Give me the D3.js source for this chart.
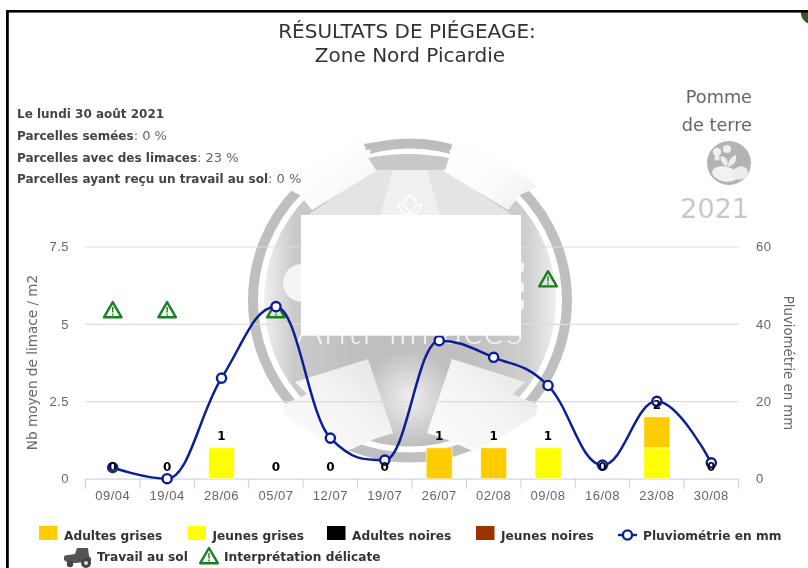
<!DOCTYPE html>
<html lang="fr">
<head>
<meta charset="utf-8">
<title>Résultats de piégeage</title>
<script src="https://cdnjs.cloudflare.com/ajax/libs/d3/7.8.5/d3.min.js"></script>
<style>
html,body{margin:0;padding:0;background:#fff;overflow:hidden}
svg{display:block;font-family:"DejaVu Sans",sans-serif;filter:blur(.3px)}
</style>
</head>
<body>
<div id="chart"></div>
<script>
const categories = ["09/04","19/04","28/06","05/07","12/07","19/07","26/07","02/08","09/08","16/08","23/08","30/08"];
const adultesGrises = [0,0,0,0,0,0,1,1,0,0,1,0];
const jeunesGrises  = [0,0,1,0,0,0,0,0,1,0,1,0];
const adultesNoires = [0,0,0,0,0,0,0,0,0,0,0,0];
const jeunesNoires  = [0,0,0,0,0,0,0,0,0,0,0,0];
const pluviometrie  = [2.9,0,26,44.5,10.5,4.8,35.7,31.4,24.1,3.5,20,4.1];
const interpretationDelicate = [5.45,5.45,null,5.45,null,null,null,null,6.45,null,null,null];
const leftTicks  = [0,2.5,5,7.5];
const rightTicks = [0,20,40,60];
const infoLines = [
  ["Le lundi 30 août 2021",""],
  ["Parcelles semées",": 0 %"],
  ["Parcelles avec des limaces",": 23 %"],
  ["Parcelles ayant reçu un travail au sol",": 0 %"]
];
const stackSeries = [
  {name:"Jeunes grises", color:"#ffff00", values:jeunesGrises},
  {name:"Adultes grises", color:"#ffcc00", values:adultesGrises},
  {name:"Adultes noires", color:"#000000", values:adultesNoires},
  {name:"Jeunes noires", color:"#993300", values:jeunesNoires}
];
const NAVY = "#0a1f96", GREEN = "#17801f";

const W = 808, H = 568;
const svg = d3.select("#chart").append("svg").attr("width",W).attr("height",H).attr("viewBox",[0,0,W,H]);
const defs = svg.append("defs");

/* ---------- frame ---------- */
svg.append("circle").attr("cx",812).attr("cy",13).attr("r",11).attr("fill","#2c5a2c");
svg.append("rect").attr("x",790).attr("y",0).attr("width",18).attr("height",10).attr("fill","#fff");
svg.append("rect").attr("x",6).attr("y",10).attr("width",W).attr("height",2.6).attr("fill","#000");
svg.append("rect").attr("x",6).attr("y",10).attr("width",2.8).attr("height",H).attr("fill","#000");

/* ---------- watermark ---------- */
function grad(id,x1,y1,x2,y2,stops){
  const g = defs.append("linearGradient").attr("id",id).attr("x1",x1).attr("y1",y1).attr("x2",x2).attr("y2",y2);
  stops.forEach(s=>g.append("stop").attr("offset",s[0]).attr("stop-color",s[1]));
}
grad("disc",0,0,1,0,[[0,"#f0f0f0"],[.1,"#cbcbcb"],[.3,"#bfbfbf"],[.7,"#bfbfbf"],[.9,"#cfcfcf"],[1,"#eeeeee"]]);
grad("wingT",0,0,1,1,[[0,"#ffffff"],[.6,"#fcfcfc"],[1,"#ececec"]]);
grad("wingB",0,1,1,0,[[0,"#fdfdfd"],[.55,"#f3f3f3"],[.85,"#e8e8e8"],[1,"#d6d6d6"]]);
const glow = defs.append("radialGradient").attr("id","glow");
glow.append("stop").attr("offset",0).attr("stop-color","#fff").attr("stop-opacity",.75);
glow.append("stop").attr("offset",1).attr("stop-color","#fff").attr("stop-opacity",0);
const wm = svg.append("g");
const cx = 410, cy = 300.5;
wm.append("circle").attr("cx",cx).attr("cy",cy).attr("r",157).attr("fill","none").attr("stroke","#bfbfbf").attr("stroke-width",10);
wm.append("circle").attr("cx",cx).attr("cy",cy).attr("r",146).attr("fill","url(#disc)");
wm.append("circle").attr("cx",cx).attr("cy",398).attr("r",48).attr("fill","url(#glow)");
const poly = (pts,fill)=>wm.append("polygon").attr("points",pts.map(p=>p.join(",")).join(" ")).attr("fill",fill);
const mirror = pts=>pts.map(([x,y])=>[2*cx-x,y]);
/* upper sector */
poly([[378,167],[442,167],[512,215],[308,215]],"#e4e4e4");
poly([[394,167],[426,167],[440,215],[380,215]],"#f0f0f0");
/* upper wings */
const upWing = [[283,187],[295,176],[366,136],[374,135],[370,153],[378,170],[312,210],[300,195]];
poly(upWing,"url(#wingT)"); poly(mirror(upWing),"url(#wingT)");
/* top arcs */
wm.append("path").attr("d","M364,144 Q408,136 452,144 L451,150 Q408,143 366,150 Z").attr("fill","#bdbdbd");
wm.append("path").attr("d","M368,158 Q408,150 449,158 L445,170 Q408,170 376,170 Z").attr("fill","#c8c8c8");
/* lower wings and highlights */
const lowWing = [[295,382],[368,359],[393,433],[372,440],[345,452],[300,425],[284,415],[282,405],[307,394]];
poly(lowWing,"url(#wingB)"); poly(mirror(lowWing),"url(#wingB)");
/* logo details */
wm.append("circle").attr("cx",302).attr("cy",283).attr("r",19).attr("fill","#f5f5f5");
[267,287,305].forEach(y=>wm.append("rect").attr("x",517).attr("y",y-5).attr("width",7).attr("height",10).attr("rx",3).attr("fill","#f5f5f5"));
wm.append("g").attr("transform","translate(410,206)").attr("fill","none").attr("stroke","#fff").attr("stroke-width",1.6).call(g=>{
  g.append("path").attr("d","M0,9 C-9,8 -11,2 -11,-2 C-7,-2 -3,0 0,9 C3,0 7,-2 11,-2 C11,2 9,8 0,9");
  g.append("path").attr("d","M-6,-3 C-6,-7 -3,-9 0,-11 C3,-9 6,-7 6,-3");
});
wm.append("text").attr("x",410).attr("y",344).attr("text-anchor","middle")
  .attr("font-size",41).attr("letter-spacing",1).attr("font-family","Lato, sans-serif").attr("font-weight",300)
  .attr("fill","#f2f2f2").text("Anti-limaces");

/* ---------- header ---------- */
const title = svg.append("g").attr("text-anchor","middle").attr("fill","#333").attr("font-size",20);
title.append("text").attr("x",407).attr("y",38).text("RÉSULTATS DE PIÉGEAGE:");
title.append("text").attr("x",410).attr("y",62).text("Zone Nord Picardie");

const info = svg.append("g").attr("font-size",12).attr("fill","#444");
infoLines.forEach((l,i)=>{
  const t = info.append("text").attr("x",17).attr("y",118+i*21.8);
  t.append("tspan").attr("font-weight","bold").text(l[0]);
  if(l[1]) t.append("tspan").attr("font-size",13).attr("fill","#666").text(l[1]);
});

const crop = svg.append("g").attr("fill","#666").attr("text-anchor","end").attr("font-size",17.7);
crop.append("text").attr("x",752).attr("y",103).text("Pomme");
crop.append("text").attr("x",752).attr("y",131).text("de terre");
svg.append("text").attr("x",749).attr("y",218).attr("text-anchor","end").attr("font-size",27).attr("fill","#c8c8c8").text("2021");
const pot = svg.append("g").attr("transform","translate(729,163)");
pot.append("circle").attr("r",22).attr("fill","#b3b3b3");
pot.append("ellipse").attr("cx",-4).attr("cy",11).attr("rx",13).attr("ry",7.5).attr("transform","rotate(12 -4 11)").attr("fill","#f2f2f2");
pot.append("ellipse").attr("cx",11).attr("cy",10).attr("rx",8).attr("ry",6.5).attr("transform","rotate(-20 11 10)").attr("fill","#ececec");
pot.append("path").attr("d","M-2,4 C-8,0 -9,-4 -8,-7 C-3,-6 0,-3 -2,4 M-1,4 C6,2 8,-3 7,-8 C2,-6 -1,-2 -1,4").attr("fill","#eee");
pot.append("circle").attr("cx",-12).attr("cy",-11).attr("r",4.2).attr("fill","#eee");
pot.append("circle").attr("cx",-2).attr("cy",-14).attr("r",4).attr("fill","#eee");
pot.append("circle").attr("cx",-12).attr("cy",-5).attr("r",2.6).attr("fill","#eee");

/* ---------- scales ---------- */
const yZero = 478.7, yTop = 246.7, xL = 85.5, xR = 738.5;
const x = d3.scaleBand().domain(categories).range([xL,xR]);
const yL = d3.scaleLinear().domain([0,7.5]).range([yZero,yTop]);
const yR = d3.scaleLinear().domain([0,60]).range([yZero,yTop]);
const mid = c => x(c)+x.bandwidth()/2;

/* ---------- grid ---------- */
const plot = svg.append("g");
plot.append("g").selectAll("line").data(leftTicks.slice(1)).join("line")
  .attr("x1",xL).attr("x2",xR).attr("y1",d=>yL(d)+.3).attr("y2",d=>yL(d)+.3)
  .attr("stroke","#dcdcdc").attr("stroke-width",1.2);

/* axes through d3-axis */
const styleAxis = g=>{
  g.selectAll("text").attr("font-size",13).attr("fill","#666").attr("font-family","inherit").attr("letter-spacing",.5);
};
const axL = d3.axisLeft(yL).tickValues(leftTicks).tickSize(0).tickPadding(0).tickFormat(d=>d);
plot.append("g").attr("transform","translate(69,0)").call(axL).call(g=>g.select(".domain").remove()).call(styleAxis);
const axR = d3.axisRight(yR).tickValues(rightTicks).tickSize(0).tickPadding(0);
plot.append("g").attr("transform","translate(756,0)").call(axR).call(g=>g.select(".domain").remove()).call(styleAxis);

const axB = d3.axisBottom(x).tickSize(0).tickPadding(12);
plot.append("g").attr("transform",`translate(0,${yZero})`).call(axB)
  .call(g=>g.select(".domain").attr("stroke","#ccd6eb").attr("stroke-width",1.2))
  .call(styleAxis);
plot.append("g").selectAll("line").data(categories.map(c=>x(c)).concat([xR])).join("line")
  .attr("x1",d=>d).attr("x2",d=>d).attr("y1",yZero).attr("y2",yZero+10)
  .attr("stroke","#ccd6eb").attr("stroke-width",1.2);

svg.append("text").attr("transform","translate(37,362.5) rotate(-90)").attr("text-anchor","middle")
  .attr("font-size",13.6).attr("fill","#666").text("Nb moyen de limace / m2");
svg.append("text").attr("transform","translate(784,363) rotate(90)").attr("text-anchor","middle")
  .attr("font-size",13.3).attr("fill","#666").text("Pluviométrie en mm");

/* ---------- stacked bars ---------- */
const table = categories.map((c,i)=>{const r={cat:c};stackSeries.forEach(s=>r[s.name]=s.values[i]);return r;});
const stacked = d3.stack().keys(stackSeries.map(s=>s.name))(table);
const barW = 26;
const bars = plot.append("g");
stacked.forEach((layer,k)=>{
  bars.append("g").selectAll("rect").data(layer.filter(d=>d[1]>d[0])).join("rect")
    .attr("x",d=>mid(d.data.cat)-barW/2).attr("width",barW)
    .attr("y",d=>yL(d[1])).attr("height",d=>yL(d[0])-yL(d[1]))
    .attr("fill",stackSeries[k].color).attr("stroke","#fff").attr("stroke-opacity",.6).attr("stroke-width",1);
});

/* ---------- triangles ---------- */
function triangle(sel,size){
  const s=size/20;
  const g=sel.append("g").attr("transform",`scale(${s})`);
  g.append("path").attr("d","M0,-8 L8.8,7.2 L-8.8,7.2 Z").attr("fill","none").attr("stroke",GREEN)
    .attr("stroke-width",2.4).attr("stroke-linejoin","round");
  g.append("path").attr("d","M0,-3 V2.4 M0,3.6 V5.4").attr("stroke",GREEN).attr("stroke-width",1.4);
}
plot.append("g").selectAll("g").data(categories.map((c,i)=>({c,v:interpretationDelicate[i]})).filter(d=>d.v!=null)).join("g")
  .attr("transform",d=>`translate(${mid(d.c)},${yL(d.v)})`)
  .each(function(){triangle(d3.select(this),20);});

/* ---------- spline ---------- */
function splineCurve(ctx){
  let pts=[];
  return {
    areaStart(){},areaEnd(){},
    lineStart(){pts=[];},
    point(a,b){pts.push([a,b]);},
    lineEnd(){
      const sm=1.5,den=2.5,n=pts.length,L=[],R=[];
      pts.forEach((p,i)=>{
        if(i===0||i===n-1){L[i]=p.slice();R[i]=p.slice();return;}
        const [px,py]=p,[ax,ay]=pts[i-1],[bx,by]=pts[i+1];
        const lx=(sm*px+ax)/den,rx=(sm*px+bx)/den;
        let ly=(sm*py+ay)/den,ry=(sm*py+by)/den;
        const corr=((ry-ly)*(rx-px))/(rx-lx)+py-ry;
        ly+=corr;ry+=corr;
        if(ly>ay&&ly>py){ly=Math.max(ay,py);ry=2*py-ly;}
        else if(ly<ay&&ly<py){ly=Math.min(ay,py);ry=2*py-ly;}
        if(ry>by&&ry>py){ry=Math.max(by,py);ly=2*py-ry;}
        else if(ry<by&&ry<py){ry=Math.min(by,py);ly=2*py-ry;}
        L[i]=[lx,ly];R[i]=[rx,ry];
      });
      ctx.moveTo(pts[0][0],pts[0][1]);
      for(let i=1;i<n;i++) ctx.bezierCurveTo(R[i-1][0],R[i-1][1],L[i][0],L[i][1],pts[i][0],pts[i][1]);
    }
  };
}
const line = d3.line().x((d,i)=>mid(categories[i])).y(d=>yR(d)).curve(splineCurve);
plot.append("path").attr("d",line(pluviometrie)).attr("fill","none").attr("stroke",NAVY).attr("stroke-width",2.5);
plot.append("g").selectAll("circle").data(pluviometrie).join("circle")
  .attr("cx",(d,i)=>mid(categories[i])).attr("cy",d=>yR(d)).attr("r",4.6)
  .attr("fill","#fff").attr("stroke",NAVY).attr("stroke-width",2.4);

/* ---------- stack labels ---------- */
plot.append("g").selectAll("text").data(categories).join("text")
  .attr("x",d=>mid(d)).attr("y",(d,i)=>yL(d3.sum(stackSeries,s=>s.values[i]))-7.5)
  .attr("text-anchor","middle").attr("font-size",12).attr("font-weight","bold").attr("fill","#000")
  .text((d,i)=>d3.sum(stackSeries,s=>s.values[i]));

/* ---------- cover ---------- */
svg.append("rect").attr("x",301).attr("y",215).attr("width",220).attr("height",120.7).attr("fill","#fff");

/* ---------- legend ---------- */
const lg = svg.append("g").attr("font-size",12.2).attr("font-weight","bold").attr("fill","#333");
[["Adultes grises","#ffcc00",39],["Jeunes grises","#ffff00",187.5],["Adultes noires","#000000",327],["Jeunes noires","#993300",476]].forEach(([n,c,px])=>{
  lg.append("rect").attr("x",px).attr("y",526).attr("width",18.5).attr("height",14).attr("fill",c);
  lg.append("text").attr("x",px+25).attr("y",540).text(n);
});
lg.append("line").attr("x1",618).attr("x2",637).attr("y1",535).attr("y2",535).attr("stroke",NAVY).attr("stroke-width",2.4);
lg.append("circle").attr("cx",627.5).attr("cy",535).attr("r",4.6).attr("fill","#fff").attr("stroke",NAVY).attr("stroke-width",2.4);
lg.append("text").attr("x",643).attr("y",540).text("Pluviométrie en mm");
/* tractor */
const tr = lg.append("g").attr("transform","translate(64,548)").attr("fill","#555");
tr.append("path").attr("d","M0,12 L0,9 Q0,7 4,7 L11,6 L13,0 L24,0 L25,8 L27,10 L27,13 L20,14 L12,15 L4,15 Z");
tr.append("circle").attr("cx",22).attr("cy",15).attr("r",5).attr("fill","#444");
tr.append("circle").attr("cx",22).attr("cy",15).attr("r",2).attr("fill","#ddd");
tr.append("circle").attr("cx",6).attr("cy",16).attr("r",3.2).attr("fill","#444");
lg.append("text").attr("x",97).attr("y",561).text("Travail au sol");
lg.append("g").attr("transform","translate(209,556)").call(g=>triangle(g,20));
lg.append("text").attr("x",224).attr("y",561).text("Interprétation délicate");
</script>
</body>
</html>
